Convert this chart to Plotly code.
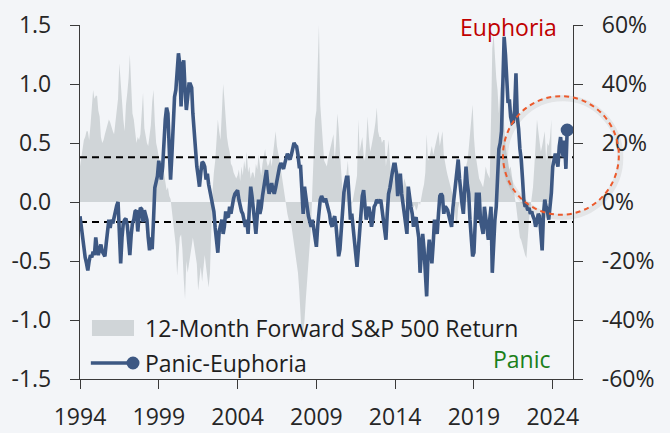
import pandas as pd
import plotly.graph_objects as go

# Citi-style Panic/Euphoria model, monthly readings (Jan 1994 - Dec 2024)
panic_euphoria = [
    # 1994
    -0.12, -0.22, -0.33, -0.40, -0.47, -0.52, -0.58, -0.50, -0.45, -0.47, -0.42, -0.45,
    # 1995
    -0.30, -0.40, -0.45, -0.40, -0.36, -0.42, -0.44, -0.46, -0.35, -0.25, -0.15, -0.22,
    # 1996
    -0.15, -0.18, -0.12, -0.06, -0.03, 0.00, -0.25, -0.52, -0.30, -0.18, -0.15, -0.14,
    # 1997
    -0.20, -0.30, -0.45, -0.28, -0.18, -0.15, -0.08, -0.07, -0.25, -0.12, -0.05, -0.06,
    # 1998
    -0.17, -0.07, -0.12, -0.15, -0.30, -0.41, -0.30, -0.40, -0.15, 0.12, 0.17, 0.22,
    # 1999
    0.35, 0.28, 0.19, 0.30, 0.52, 0.70, 0.80, 0.75, 0.45, 0.19, 0.40, 0.62,
    # 2000
    0.89, 0.95, 1.15, 1.26, 1.17, 0.81, 1.15, 1.20, 0.95, 0.78, 0.89, 1.00,
    # 2001
    1.00, 0.97, 0.75, 0.58, 0.42, 0.30, 0.22, 0.13, 0.25, 0.34, 0.33, 0.30,
    # 2002
    0.19, 0.24, 0.15, 0.08, 0.02, -0.04, -0.08, -0.22, -0.32, -0.43, -0.25, -0.18,
    # 2003
    -0.15, -0.27, -0.21, -0.08, -0.12, -0.13, -0.04, -0.10, -0.02, 0.03, 0.07, 0.09,
    # 2004
    0.10, 0.02, -0.04, -0.08, -0.10, -0.16, -0.21, -0.15, -0.27, -0.05, 0.13, 0.05,
    # 2005
    -0.04, -0.15, -0.27, -0.12, 0.02, -0.10, -0.05, 0.05, 0.12, 0.20, 0.27, 0.15,
    # 2006
    0.07, 0.12, 0.16, 0.10, 0.07, 0.12, 0.19, 0.25, 0.30, 0.33, 0.30, 0.28,
    # 2007
    0.33, 0.38, 0.41, 0.38, 0.36, 0.40, 0.45, 0.50, 0.48, 0.47, 0.40, 0.30,
    # 2008
    0.30, 0.12, -0.10, 0.13, 0.02, -0.04, -0.12, -0.18, -0.21, -0.15, -0.25, -0.30,
    # 2009
    -0.38, -0.20, -0.04, 0.02, 0.05, 0.03, 0.00, 0.03, -0.02, -0.04, -0.10, -0.18,
    # 2010
    -0.21, -0.15, -0.12, -0.20, -0.38, -0.46, -0.40, -0.25, -0.04, 0.08, 0.15, 0.21,
    # 2011
    0.21, 0.05, -0.15, -0.10, -0.20, -0.30, -0.42, -0.55, -0.40, -0.21, -0.05, 0.05,
    # 2012
    0.10, 0.00, -0.15, -0.08, -0.04, -0.10, -0.21, -0.15, -0.04, -0.02, 0.02, 0.00,
    # 2013
    0.00, 0.02, -0.05, -0.15, -0.25, -0.32, -0.10, 0.07, 0.12, 0.21, 0.26, 0.32,
    # 2014
    0.32, 0.24, 0.05, 0.15, 0.24, 0.07, -0.02, -0.08, -0.15, -0.27, 0.13, 0.02,
    # 2015
    -0.04, -0.10, -0.21, -0.15, -0.13, -0.22, -0.30, -0.60, -0.45, -0.27, -0.40, -0.62,
    # 2016
    -0.80, -0.45, -0.32, -0.42, -0.52, -0.35, -0.15, -0.22, -0.27, -0.10, 0.05, 0.07,
    # 2017
    0.05, -0.10, -0.04, -0.05, -0.07, -0.12, -0.18, -0.21, -0.05, 0.07, 0.19, 0.30,
    # 2018
    0.36, 0.20, 0.07, -0.02, -0.10, 0.15, 0.30, 0.15, 0.07, -0.15, -0.30, -0.46,
    # 2019
    -0.43, -0.10, 0.08, -0.15, 0.08, -0.15, -0.21, -0.27, -0.04, -0.15, -0.25, -0.32,
    # 2020
    -0.15, -0.04, -0.60, -0.35, -0.15, -0.04, 0.24, 0.45, 0.50, 0.60, 1.00, 1.40,
    # 2021
    1.25, 1.00, 0.84, 0.87, 0.72, 0.67, 0.68, 0.78, 1.09, 0.72, 0.62, 0.45,
    # 2022
    0.36, 0.19, 0.02, -0.04, -0.03, -0.07, -0.05, -0.10, -0.08, -0.12, -0.15, -0.21,
    # 2023
    -0.15, -0.10, -0.12, -0.27, -0.41, -0.10, 0.02, -0.04, -0.08, -0.15, -0.05, 0.08,
    # 2024
    0.30, 0.36, 0.41, 0.35, 0.30, 0.47, 0.55, 0.45, 0.38, 0.52, 0.28, 0.61,
]

# 12-month forward S&P 500 total return in percent (Jan 1994 - Dec 2023)
fwd_return_pct = [
    # 1994
    12, 15, 18, 21, 22, 24, 24, 21, 26, 31, 38, 35,
    # 1995
    36, 36, 31, 29, 22, 20, 21, 23, 25, 27, 28, 27,
    # 1996
    25, 24, 23, 27, 30, 35, 47, 40, 32, 28, 24, 33,
    # 1997
    37, 42, 50, 36, 30, 28, 24, 20, 22, 21, 23, 30,
    # 1998
    37, 25, 22, 20, 19, 22, 26, 34, 38, 27, 20, 18,
    # 1999
    15, 12, 9, 7, 10, 6, 4, 5, 2, 1, -3, -6,
    # 2000
    -10, -15, -25, -18, -12, -11, -16, -26, -33, -20, -24, -21,
    # 2001
    -17, -15, -12, -15, -18, -21, -30, -25, -22, -27, -22, -18,
    # 2002
    -22, -26, -29, -24, -6, 4, 10, 14, 21, 28, 24, 21,
    # 2003
    30, 40, 35, 28, 22, 19, 17, 13, 12, 10, 9, 8,
    # 2004
    9, 11, 7, 12, 9, 14, 11, 17, 10, 12, 8, 10,
    # 2005
    10, 8, 13, 11, 16, 12, 9, 13, 15, 18, 14, 12,
    # 2006
    13, 15, 12, 16, 18, 24, 19, 17, 14, 11, 8, 5,
    # 2007
    2, -2, -4, -6, -7, -8, -11, -14, -17, -20, -24, -30,
    # 2008
    -38, -47, -44, -40, -33, -26, -22, -14, -8, 5, 20, 28,
    # 2009
    31, 45, 60, 33, 25, 20, 14, 13, 12, 15, 17, 20,
    # 2010
    22, 23, 14, 20, 30, 25, 17, 10, 3, 6, 5, 10,
    # 2011
    14, 6, 2, -1, 1, 3, 6, 9, 28, 17, 20, 22,
    # 2012
    16, 14, 20, 29, 22, 17, 19, 21, 24, 27, 32, 24,
    # 2013
    22, 22, 20, 21, 21, 12, 18, 21, 14, 9, 11, 7,
    # 2014
    12, 10, 9, 11, 8, 7, 5, 8, 6, 4, 3, 2,
    # 2015
    1, -1, -2, -1, -3, -2, 0, -1, 2, 4, 6, 10,
    # 2016
    23, 14, 15, 17, 19, 16, 18, 20, 22, 24, 19, 22,
    # 2017
    24, 16, 13, 11, 9, 7, 5, 3, 2, 1, -6, -8,
    # 2018
    -2, 0, 2, 4, 7, 9, 12, 14, 18, 24, 28, 33,
    # 2019
    22, 16, 14, 11, 8, 7, 6, 5, 8, 12, 10, 9,
    # 2020
    8, 28, 52, 57, 48, 42, 38, 30, 38, 42, 34, 25,
    # 2021
    19, 16, 13, 11, 12, 8, 5, 2, -1, -5, -9, -12,
    # 2022
    -13, -15, -16, -18, -19, -11, -6, -2, 2, 5, 12, 21,
    # 2023
    28, 24, 21, 17, 19, 21, 24, 14, 20, 19, 22, 28,
]

# signal thresholds for the model
euphoria_level = 0.38
panic_level = -0.17

# axis ticks
left_tick_vals = [-1.5, -1.0, -0.5, 0.0, 0.5, 1.0, 1.5]
left_tick_text = ["-1.5", "-1.0", "-0.5", "0.0", "0.5", "1.0", "1.5"]
right_tick_vals = [-60, -40, -20, 0, 20, 40, 60]
right_tick_text = ["-60%", "-40%", "-20%", "0%", "20%", "40%", "60%"]
year_ticks = [1994, 1999, 2004, 2009, 2014, 2019, 2024]

x_start = pd.Timestamp("1994-01-01")
x_end = pd.Timestamp("2025-04-15")

pe_dates = pd.date_range("1994-01-01", periods=len(panic_euphoria), freq="MS")
ret_dates = pd.date_range("1994-01-01", periods=len(fwd_return_pct), freq="MS")

BG = "#f3f5f8"
NAVY = "#3d5883"
GREY_FILL = "#d0d5d8"
AXIS = "#3a3a3a"
FONT = "Open Sans"
TICK_FONT = dict(family=FONT, size=23, color="#262626")

fig = go.Figure()

# forward return area (right-hand percent axis, drawn underneath)
fig.add_trace(go.Scatter(
    x=ret_dates, y=fwd_return_pct, yaxis="y",
    mode="lines", line=dict(width=0, color=GREY_FILL),
    fill="tozeroy", fillcolor=GREY_FILL,
    showlegend=False, hoverinfo="skip",
))

# euphoria / panic thresholds
for level in (euphoria_level, panic_level):
    fig.add_trace(go.Scatter(
        x=[x_start, x_end], y=[level, level], yaxis="y2",
        mode="lines", line=dict(color="black", width=2, dash="7px,5px"),
        showlegend=False, hoverinfo="skip",
    ))

# the model line and its latest reading
fig.add_trace(go.Scatter(
    x=pe_dates, y=panic_euphoria, yaxis="y2",
    mode="lines", line=dict(color=NAVY, width=3.6),
    showlegend=False,
))
fig.add_trace(go.Scatter(
    x=pe_dates[-1:], y=panic_euphoria[-1:], yaxis="y2",
    mode="markers", marker=dict(color=NAVY, size=13),
    showlegend=False,
))

axis_common = dict(
    showgrid=False, zeroline=False, showline=True, linecolor=AXIS, linewidth=1.3,
    ticks="outside", ticklen=9, tickwidth=1.3, tickcolor=AXIS, tickfont=TICK_FONT,
    automargin=False,
)

fig.update_layout(
    width=670, height=433,
    margin=dict(l=80, r=97, t=25, b=54, autoexpand=False),
    paper_bgcolor=BG, plot_bgcolor=BG,
    showlegend=False,
    xaxis=dict(
        type="date", range=[x_start, x_end],
        tickvals=[pd.Timestamp(f"{y}-01-01") for y in year_ticks],
        ticktext=[str(y) for y in year_ticks],
        ticklabelstandoff=8,
        **axis_common,
    ),
    yaxis=dict(
        side="right", range=[-60, 60],
        tickvals=right_tick_vals, ticktext=right_tick_text,
        ticklabelstandoff=14,
        **axis_common,
    ),
    yaxis2=dict(
        side="left", overlaying="y", range=[-1.5, 1.5],
        tickvals=left_tick_vals, ticktext=left_tick_text,
        ticklabelstandoff=14,
        **axis_common,
    ),
)

# hand-built legend
legend_font = dict(family=FONT, size=23, color="#1e1e1e")
fig.add_shape(type="rect", xref="paper", yref="paper",
              x0=0.0243, x1=0.1095, y0=0.1215, y1=0.1667,
              fillcolor=GREY_FILL, line=dict(width=0))
fig.add_shape(type="line", xref="paper", yref="paper",
              x0=0.022, x1=0.107, y0=0.0452, y1=0.0452,
              line=dict(color=NAVY, width=3.6))
fig.add_shape(type="circle", xref="paper", yref="paper",
              xsizemode="pixel", ysizemode="pixel",
              xanchor=0.1075, yanchor=0.0452, x0=-6.5, x1=6.5, y0=-6.5, y1=6.5,
              fillcolor=NAVY, line=dict(width=0))
fig.add_annotation(text="12-Month Forward S&P 500 Return", xref="paper", yref="paper",
                   x=0.127, y=0.1441, xanchor="left", yanchor="middle",
                   showarrow=False, font=legend_font)
fig.add_annotation(text="Panic-Euphoria", xref="paper", yref="paper",
                   x=0.127, y=0.0452, xanchor="left", yanchor="middle",
                   showarrow=False, font=legend_font)

# zone labels
fig.add_annotation(text="Euphoria", xref="paper", yref="paper",
                   x=0.972, y=0.994, xanchor="right", yanchor="middle",
                   showarrow=False, font=dict(family=FONT, size=23, color="#c00000"))
fig.add_annotation(text="Panic", xref="paper", yref="paper",
                   x=0.96, y=0.0565, xanchor="right", yanchor="middle",
                   showarrow=False, font=dict(family=FONT, size=23, color="#1a801a"))

# highlight ring around the latest reading, with a soft halo
fig.add_shape(type="circle", xref="paper", yref="paper",
              x0=0.862, x1=1.096, y0=0.458, y1=0.793,
              line=dict(color="rgba(90,90,90,0.10)", width=6))
fig.add_shape(type="circle", xref="paper", yref="paper",
              x0=0.858, x1=1.093, y0=0.464, y1=0.799,
              line=dict(color="#ec5a2c", width=2, dash="5px,4px"))

fig.write_html("out.html")
